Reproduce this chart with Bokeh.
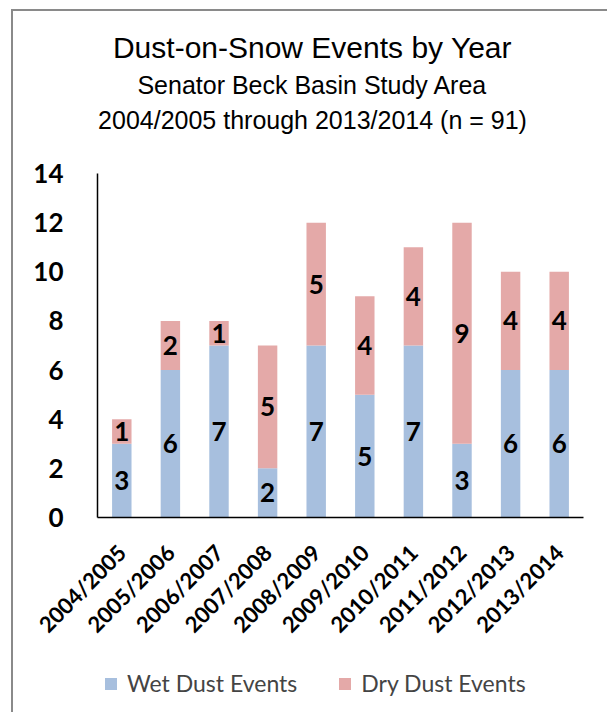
from bokeh.plotting import figure
from bokeh.models import (ColumnDataSource, Range1d, Label,
                          Legend, LegendItem, FixedTicker)
from bokeh.core.properties import value
from bokeh.embed import file_html
from bokeh.resources import INLINE
import math

years = ["2004/2005", "2005/2006", "2006/2007", "2007/2008", "2008/2009",
         "2009/2010", "2010/2011", "2011/2012", "2012/2013", "2013/2014"]
wet = [3, 6, 7, 2, 7, 5, 7, 3, 6, 6]
dry = [1, 2, 1, 5, 5, 4, 4, 9, 4, 4]
y_ticks = [0, 2, 4, 6, 8, 10, 12, 14]
title_lines = ["Dust-on-Snow Events by Year",
               "Senator Beck Basin Study Area",
               "2004/2005 through 2013/2014 (n = 91)"]
series_names = ["Wet Dust Events", "Dry Dust Events"]

WET_C = "#A7BFDE"
DRY_C = "#E4A9A8"

idx = list(range(len(years)))
src = ColumnDataSource(dict(
    xi=idx, wet=wet, dry=dry,
    wet_mid=[w / 2 for w in wet],
    dry_mid=[w + d / 2 for w, d in zip(wet, dry)],
    wet_lbl=[str(w) for w in wet],
    dry_lbl=[str(d) for d in dry],
))

# page geometry (pixels)
OX, OY = 13, 11                 # canvas origin inside the page (margin + 2px border)
CANVAS_W, FRAME_BOTTOM = 607 - OX, 712
AX_L, AX_R = 97, 583            # page x of the category area edges
AXIS_Y = 517                    # page y of the value 0
PX_PER_UNIT = (517 - 173) / 14.0
PX_PER_CAT = (AX_R - AX_L) / len(years)

x_lo = -0.5 - (AX_L - OX) / PX_PER_CAT
x_hi = len(years) - 0.5 + (OX + CANVAS_W - AX_R) / PX_PER_CAT
y_top = (AXIS_Y - OY) / PX_PER_UNIT
y_bot = -(FRAME_BOTTOM - AXIS_Y) / PX_PER_UNIT

p = figure(frame_width=CANVAS_W, frame_height=FRAME_BOTTOM - OY,
           x_range=Range1d(x_lo, x_hi), y_range=Range1d(y_bot, y_top),
           output_backend="svg", toolbar_location=None,
           min_border_left=0, min_border_right=0, min_border_top=0, min_border_bottom=0)
p.margin = (OY - 2, 0, 0, OX - 2)
p.styles = {"border-top": "2px solid #8A8A8A", "border-left": "2px solid #8A8A8A"}
p.outline_line_color = None
p.grid.visible = False
p.background_fill_color = "white"
p.border_fill_color = "white"

r = p.vbar_stack(["wet", "dry"], x="xi", width=0.4, color=[WET_C, DRY_C],
                 line_color=None, source=src)

for ycol, tcol in (("wet_mid", "wet_lbl"), ("dry_mid", "dry_lbl")):
    p.text(x="xi", y=ycol, text=tcol, source=src, text_align="center",
           text_baseline="middle", text_font=value("Lato"), text_font_style="bold",
           text_font_size="26px", text_color="black")

# axes
p.yaxis.ticker = FixedTicker(ticks=y_ticks)
p.yaxis.bounds = (0, 14)
p.yaxis.fixed_location = -0.5
p.xaxis.ticker = FixedTicker(ticks=idx)
p.xaxis.major_label_overrides = {i: y for i, y in zip(idx, years)}
p.xaxis.bounds = (-0.5, len(years) - 0.5)
p.xaxis.fixed_location = 0
for ax in (p.xaxis[0], p.yaxis[0]):
    ax.major_tick_line_color = None
    ax.minor_tick_line_color = None
    ax.axis_line_color = "black"
    ax.axis_line_width = 1.5
    ax.major_label_text_font = "Lato"
    ax.major_label_text_font_style = "bold"
    ax.major_label_text_color = "black"
p.yaxis.major_label_text_font_size = "26px"
p.yaxis.major_label_standoff = 28
p.xaxis.major_label_text_font_size = "22px"
p.xaxis.major_label_orientation = math.pi / 4
p.xaxis.major_label_standoff = 25

# titles, placed in frame screen units (x from frame left, y from frame bottom)
sizes = ["30px", "25px", "25px"]
page_y = [47, 84, 119]
for t, s, yy in zip(title_lines, sizes, page_y):
    p.add_layout(Label(x=312 - OX, y=FRAME_BOTTOM - yy, x_units="screen",
                       y_units="screen", text=t, text_align="center",
                       text_baseline="middle", text_font="Liberation Sans",
                       text_font_size=s, text_color="black"))

legend = Legend(items=[LegendItem(label=series_names[0], renderers=[r[0]]),
                       LegendItem(label=series_names[1], renderers=[r[1]])],
                orientation="horizontal", location=(103 - OX, FRAME_BOTTOM - 697),
                label_text_font="Lato", label_text_font_size="23px",
                glyph_width=15, glyph_height=15, spacing=40, padding=0, margin=0,
                border_line_color=None, background_fill_alpha=0,
                label_standoff=9)
p.add_layout(legend, "center")

open("out.html", "w").write(file_html(p, INLINE))
